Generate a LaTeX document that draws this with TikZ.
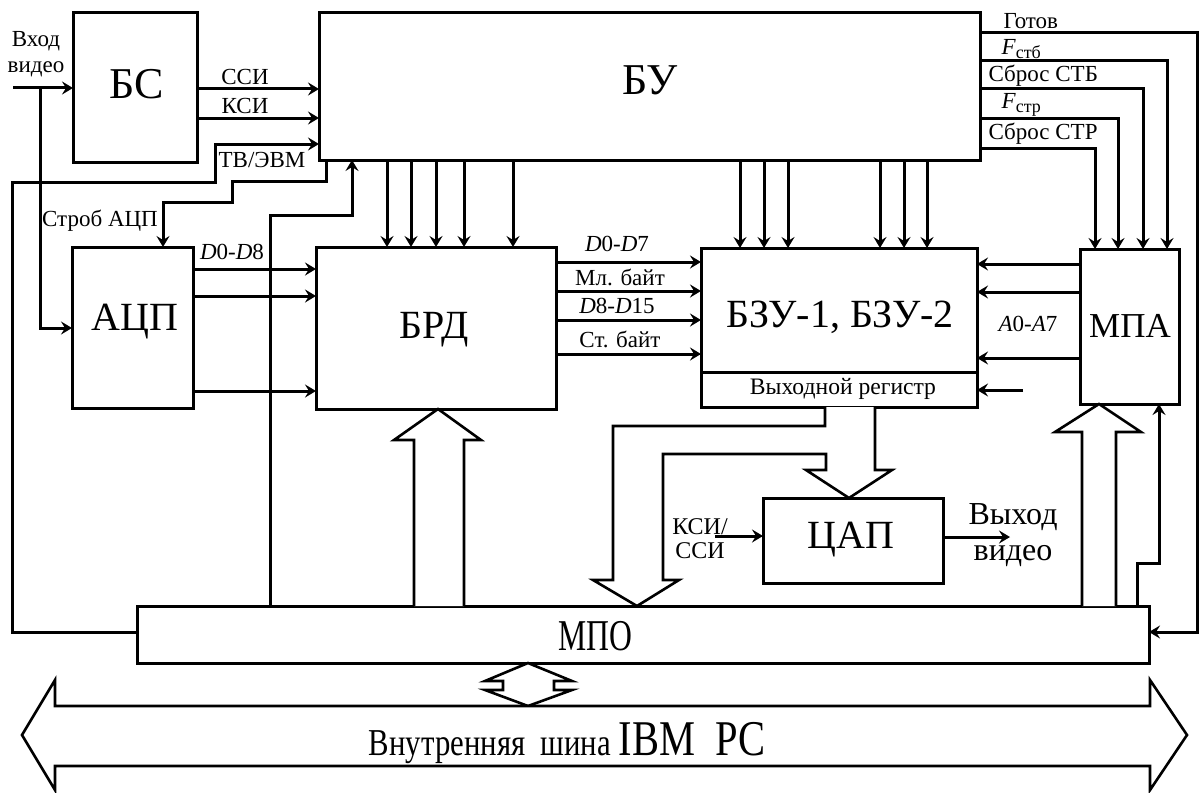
\documentclass[tikz,border=0pt]{standalone}
\usepackage{fontspec}
\setmainfont{Liberation Serif}
\usepackage{graphicx}
\usetikzlibrary{arrows.meta,fit}
\begin{document}
\begin{tikzpicture}[x=0.5pt,y=-0.5pt,line width=1.5pt,
  box/.style={draw,line width=1.5pt,inner sep=0pt,outer sep=0pt},
  arr/.style={-{Stealth[length=5.5pt,width=6.5pt,inset=2pt]}},
  hol/.style={draw,line width=1.3pt,fill=white,line join=miter},
  lab/.style={inner sep=0pt,font=\fontsize{11.5}{13}\selectfont},
  mid/.style={inner sep=0pt,font=\fontsize{11.5}{13}\selectfont},
  fs/.style={inner sep=0pt,font=\fontsize{#1}{#1}\selectfont}]
\useasboundingbox (0,0) rectangle (1203,792);

% blocks
\node[box,fit={(73,13)(197,162)}] (BS) {};
\node[fs=22] (BSt) at (137,84) {БС};
\node[box,fit={(319,13)(980,160)}] (BU) {};
\node[fs=22] (BUt) at (650,80) {БУ};
\node[box,fit={(72,247)(193,408)}] (ADC) {};
\node[fs=20] (ADCt) at (135,322) {АЦП};
\node[box,fit={(316,247)(556,409)}] (BRD) {};
\node[fs=20] (BRDt) at (434,330) {БРД};
\node[box,fit={(701,248)(977,407)}] (BZU) {};
\node[fs=20] (BZUt) at (840,317) {БЗУ-1, БЗУ-2};
\node[fs=11.8] (REGt) at (843,389) {Выходной регистр};
\node[box,fit={(1080,249)(1179,404)}] (MPA) {};
\node[fs=17.5] (MPAt) at (1130,326) {МПА};
\node[box,fit={(763,498)(943,583)}] (DAC) {};
\node[fs=20] (DACt) at (851,540) {ЦАП};
\node[box,fit={(137,606)(1149,663)}] (MPO) {};
\node[inner sep=0pt] (MPOt) at (595,636) {\scalebox{0.72}[1]{\fontsize{22}{22}\selectfont МПО}};
\draw (BZU.west |- 0,372) -- (BZU.east |- 0,372);

% video input
\node[lab,align=center] (vin) at (36,54) {Вход\\видео};
\coordinate (in0) at (13,88);
\coordinate (j1) at (40,88);
\draw[arr] (in0) -- (BS.west |- in0);
\draw[arr] (j1) -- (40,328) -- (ADC.west |- 0,328);

% BS -> BU
\draw[arr] (BS.east |- 0,89) -- (BU.west |- 0,89);
\draw[arr] (BS.east |- 0,118) -- (BU.west |- 0,118);
\node[mid,anchor=south] (ssi) at (245,86) {ССИ};
\node[mid,anchor=south] (ksi) at (245,115) {КСИ};

% TV/EVM loop
\draw[arr] (MPO.west |- 0,632) -- (12,632) -- (12,182) -- (215,182) -- (215,144) -- (BU.west |- 0,144);
\node[mid] (tv) at (262,160) {ТВ/ЭВМ};

% strobe ADC
\draw[arr] (BU.south -| 326,0) -- (326,181) -- (232,181) -- (232,202) -- (163,202) -- (ADC.north -| 163,0);
\node[mid] (strob) at (100,221) {Строб АЦП};

% MPO -> BU
\draw[arr] (MPO.north -| 270,0) -- (270,215) -- (352,215) -- (BU.south -| 352,0);

% ADC -> BRD
\foreach \y in {269,296,391} \draw[arr] (ADC.east |- 0,\y) -- (BRD.west |- 0,\y);
\node[lab] (d08) at (232,252) {\textit{D}0-\textit{D}8};

% BU -> BRD, BU -> BZU
\foreach \x in {387,411,436,464,513} \draw[arr] (BU.south -| \x,0) -- (BRD.north -| \x,0);
\foreach \x in {740,764,788,880,904,927} \draw[arr] (BU.south -| \x,0) -- (BZU.north -| \x,0);

% BRD -> BZU
\foreach \y in {262,291,320,354} \draw[arr] (BRD.east |- 0,\y) -- (BZU.west |- 0,\y);
\node[lab] (d07) at (617,244) {\textit{D}0-\textit{D}7};
\node[lab] (ml) at (620,277) {Мл. байт};
\node[lab] (d815) at (617,306) {\textit{D}8-\textit{D}15};
\node[lab] (st) at (620,339) {Ст. байт};

% MPA -> BZU
\foreach \y in {264,292,358} \draw[arr] (MPA.west |- 0,\y) -- (BZU.east |- 0,\y);
\node[lab] (a07) at (1028,324) {\textit{A}0-\textit{A}7};
\coordinate (regin) at (1023,390);
\draw[arr] (regin) -- (BZU.east |- regin);

% BU right outputs
\draw[arr] (BU.east |- 0,33) -- (1197,33) -- (1197,632) -- (MPO.east |- 0,632);
\draw[arr] (BU.east |- 0,61) -- (1167,61) -- (MPA.north -| 1167,0);
\draw[arr] (BU.east |- 0,89) -- (1143,89) -- (MPA.north -| 1143,0);
\draw[arr] (BU.east |- 0,118) -- (1118,118) -- (MPA.north -| 1118,0);
\draw[arr] (BU.east |- 0,148) -- (1095,148) -- (MPA.north -| 1095,0);
\node[lab,anchor=west] (gotov) at (1002,21) {Готов};
\node[lab,anchor=west] (fstb) at (1000,49) {\textit{F}\raisebox{-0.35ex}{\fontsize{9}{9}\selectfont стб}};
\node[lab,anchor=west] (sstb) at (987,76) {Сброс СТБ};
\node[lab,anchor=west] (fstr) at (1000,105) {\textit{F}\raisebox{-0.35ex}{\fontsize{9}{9}\selectfont стр}};
\node[lab,anchor=west] (sstr) at (987,134) {Сброс СТР};

% hollow bus MPO -> BRD
\draw[hol] (MPO.north -| 414,0) -- (414,440) -- (394,440) -- (BRD.south -| 438,0) -- (481,440) -- (464,440) -- (MPO.north -| 464,0);
% hollow bus MPO -> MPA
\draw[hol] (MPO.north -| 1082,0) -- (1082,432) -- (1055,432) -- (MPA.south -| 1099,0) -- (1141,432) -- (1116,432) -- (MPO.north -| 1116,0);
% MPO -> MPA line
\draw[arr] (MPO.north -| 1137,0) -- (1137,563) -- (1159,563) -- (MPA.south -| 1159,0);

% output register -> MPO, DAC
\draw[hol] (BZU.south -| 825,0) -- (825,426) -- (613,426) -- (613,580) -- (593,580) -- (MPO.north -| 637,0) -- (679,580) -- (663,580) -- (663,454) -- (826,454) -- (826,470) -- (806,470) -- (DAC.north -| 849,0) -- (892,470) -- (875,470) -- (BZU.south -| 875,0);

% DAC
\coordinate (ksiin) at (715,536);
\draw[arr] (ksiin) -- (DAC.west |- ksiin);
\node[fs=12,align=center] (ksissi) at (700,539) {КСИ/\\ССИ};
\coordinate (vout) at (1010,537);
\draw[arr] (DAC.east |- vout) -- (vout);
\node[fs=16] (vo1) at (1013,517) {Выход};
\node[fs=16] (vo2) at (1013,556) {видео};

% double arrow MPO <-> bus
\draw[hol] (MPO.south -| 528,0) -- (572,681) -- (554,681) -- (554,690) -- (572,690) -- (528,706) -- (485,690) -- (503,690) -- (503,681) -- (485,681) -- cycle;

% internal bus
\draw[hol] (22,735) -- (55,680) -- (55,706) -- (1150,706) -- (1150,680) -- (1187,735) -- (1150,790) -- (1150,766) -- (55,766) -- (55,790) -- cycle;
\node[inner sep=0pt] (bus) at (567,743) {\scalebox{0.81}[1]{\fontsize{19}{19}\selectfont Внутренняя\ \ шина \fontsize{25}{25}\selectfont IBM\ \ PC}};
\end{tikzpicture}
\end{document}
